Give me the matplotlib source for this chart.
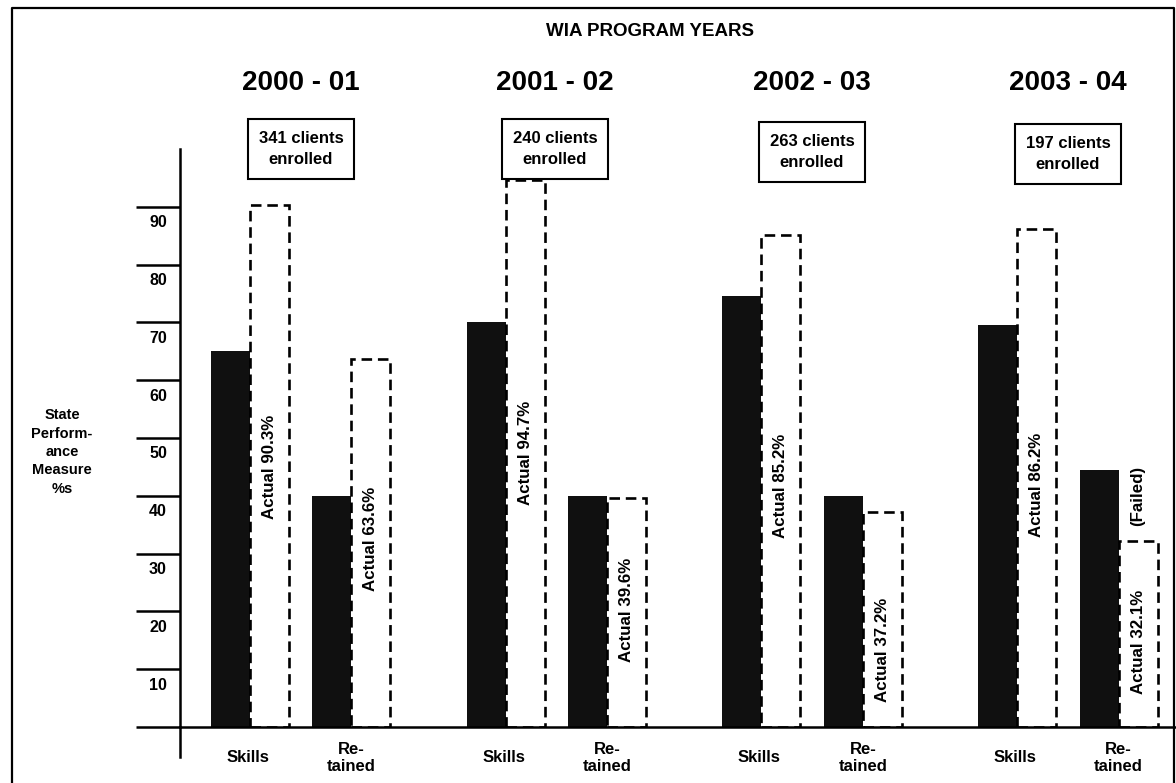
import numpy as np
import matplotlib.pyplot as plt
from matplotlib.patches import Rectangle
from matplotlib.lines import Line2D
import matplotlib.transforms as mtransforms

plt.rcParams['font.family'] = ['Liberation Sans', 'DejaVu Sans']
plt.rcParams['font.weight'] = 'bold'

# program years and enrolment
years = ['2000 - 01', '2001 - 02', '2002 - 03', '2003 - 04']
enrolled = [341, 240, 263, 197]

# state performance measures (%)
skills_target = [65, 70, 74.5, 69.5]
retained_target = [40, 40, 40, 44.5]

# actual results (%)
skills_actual = [90.3, 94.7, 85.2, 86.2]
retained_actual = [63.6, 39.6, 37.2, 32.1]
retained_failed = [False, False, False, True]

yticks = [0, 10, 20, 30, 40, 50, 60, 70, 80, 90]

W, H = 1176, 783
fig = plt.figure(figsize=(W / 100, H / 100), dpi=100)

def fx(p):
    return p / W

def fy(p):
    return 1 - p / H

# plot area: y axis at x=180px, baseline at y=727px, axis top at y=149px
ax = fig.add_axes([fx(180), fy(727), fx(W - 180), (727 - 149) / H])
ax.set_ylim(0, (727 - 149) / 5.78)
ax.set_xlim(-0.121, 3.774)

bw = 0.1525
x = np.arange(len(years))
x_sk = x
x_re = x + 0.397
dash = (0, (4, 2.2))

ax.bar(x_sk, skills_target, width=bw, align='edge', color='#101010', zorder=2)
ax.bar(x_re, retained_target, width=bw, align='edge', color='#101010', zorder=2)
ax.bar(x_sk + bw, skills_actual, width=bw, align='edge', facecolor='none',
       edgecolor='black', linestyle=dash, linewidth=1.9, zorder=3)
ax.bar(x_re + bw, retained_actual, width=bw, align='edge', facecolor='none',
       edgecolor='black', linestyle=dash, linewidth=1.9, zorder=3)

# rotated "Actual" labels inside the dashed bars
sk_label_y = [45, 47.4, 41.7, 41.9]
re_label_y = [32.5, 20.2, 13.3, 14.7]
for i in range(len(years)):
    ax.text(x_sk[i] + 1.5 * bw, sk_label_y[i], f'Actual {skills_actual[i]}%',
            rotation=90, ha='center', va='center', fontsize=12.2, zorder=4)
    ax.text(x_re[i] + 1.5 * bw, re_label_y[i], f'Actual {retained_actual[i]}%',
            rotation=90, ha='center', va='center', fontsize=12.2, zorder=4)
    if retained_failed[i]:
        ax.text(x_re[i] + 1.5 * bw, 40, '(Failed)', rotation=90,
                ha='center', va='center', fontsize=12.2, zorder=4)

# axes styling
for s in ['top', 'right']:
    ax.spines[s].set_visible(False)
ax.spines['left'].set_linewidth(1.8)
ax.spines['bottom'].set_linewidth(1.8)
ax.set_yticks(yticks)
ax.set_yticklabels([])
ax.tick_params(axis='y', length=44 * 0.72, width=1.8, direction='out')
ax.set_xticks([])
for v in yticks[1:]:
    ax.annotate(str(v), xy=(0, v), xycoords=('axes fraction', 'data'),
                xytext=(-22, -16), textcoords='offset pixels',
                ha='center', va='center', fontsize=11.5)

# category labels under the bars
for i in range(len(years)):
    ax.annotate('Skills', xy=(x_sk[i] + bw * 0.95, 0), xycoords='data',
                xytext=(0, -30), textcoords='offset pixels',
                ha='center', va='center', fontsize=12)
    ax.annotate('Re-\ntained', xy=(x_re[i] + bw, 0), xycoords='data',
                xytext=(0, -31), textcoords='offset pixels',
                ha='center', va='center', fontsize=12, linespacing=1.1)

# y axis continues below the baseline
fig.add_artist(Line2D([fx(180), fx(180)], [fy(727), fy(757)],
                      color='black', linewidth=1.8))

# header: year labels over the enrolment boxes
box_cx = [301, 555, 812, 1068]
box_bottom = [179, 179, 182, 184]
for i, yr in enumerate(years):
    fig.text(fx(box_cx[i]), fy(83), yr, ha='center', va='center', fontsize=20)
    fig.text(fx(box_cx[i]), fy(box_bottom[i] - 30),
             f'{enrolled[i]} clients\nenrolled',
             ha='center', va='center', fontsize=12, linespacing=1.45)
    fig.add_artist(Rectangle((fx(box_cx[i] - 53), fy(box_bottom[i])), fx(106),
                             60 / H, transform=fig.transFigure, fill=False,
                             edgecolor='black', linewidth=1.5))

fig.text(fx(650), fy(32), 'WIA PROGRAM YEARS', ha='center', va='center',
         fontsize=13.5)

fig.text(fx(62), fy(452), 'State\nPerform-\nance\nMeasure\n%s', ha='center',
         va='center', fontsize=10.5, linespacing=1.4)

# outer frame
fig.add_artist(Line2D([fx(12), fx(12), fx(1174), fx(1174)],
                      [0, fy(8), fy(8), 0], color='black', linewidth=1.6))

fig.savefig('out.png', dpi=100)
